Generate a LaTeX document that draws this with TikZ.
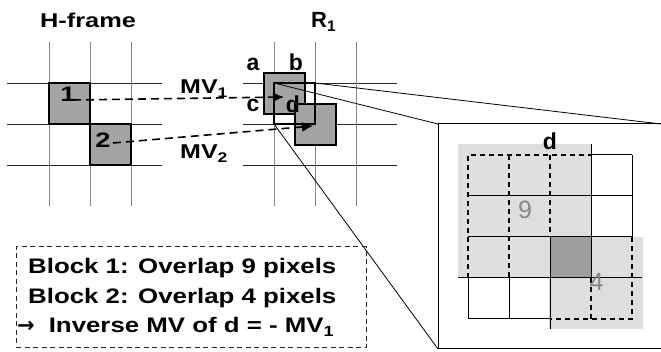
\documentclass[tikz,border=0pt]{standalone}
\usepackage{fontspec}
\setmainfont{Liberation Sans}
\newfontfamily\arrowfont{DejaVu Sans}
\usetikzlibrary{arrows.meta}
\definecolor{blockgray}{RGB}{163,163,163}
\definecolor{lightcell}{RGB}{222,222,222}
\definecolor{darkcell}{RGB}{158,158,158}
\definecolor{gridgray}{RGB}{135,135,135}
\definecolor{numgray}{RGB}{135,135,135}
\newcommand{\hstretch}[2]{\scalebox{#1}[1]{#2}}
\begin{document}
\begin{tikzpicture}[x=1pt,y=-1pt,
  hgrid/.style={draw=black!85,line width=0.9pt},
  vgrid/.style={draw=gridgray,line width=0.9pt},
  blk/.style={draw=black,line width=1.3pt,fill=blockgray,minimum size=41pt,inner sep=0pt,outer sep=0pt,anchor=north west},
  dblk/.style={draw=black,line width=2.8pt,minimum size=41pt,inner sep=0pt,outer sep=0pt,anchor=north west},
  titletext/.style={font=\fontsize{20}{22}\selectfont\bfseries,inner sep=0pt},
  lettertext/.style={font=\fontsize{23}{26}\selectfont\bfseries,inner sep=0pt,anchor=base},
  digittext/.style={font=\fontsize{21}{24}\selectfont\bfseries,inner sep=0pt,anchor=base},
  boxtext/.style={font=\fontsize{21}{24}\selectfont\bfseries,inner sep=0pt,anchor=base west},
  pixnum/.style={font=\fontsize{25}{28}\selectfont,text=numgray,inner sep=0pt},
  mvarrow/.style={line width=1.6pt,dash pattern=on 8pt off 5pt,-{Latex[length=11pt,width=10pt]}},
  zoomline/.style={draw=black,line width=0.8pt},
  pixline/.style={draw=black,line width=1pt},
  pixdash/.style={draw=black,line width=1.2pt,dash pattern=on 5pt off 4pt},
  sumbox/.style={draw=black!85,line width=1pt,dash pattern=on 5pt off 3.5pt,minimum width=350pt,minimum height=101pt,inner sep=0pt,outer sep=0pt,anchor=north west}
]
\useasboundingbox (0,0) rectangle (661,352);

% ---------- H-frame ----------
\node[titletext] (htitle) at (88,20) {\hstretch{1.27}{H-frame}};
\foreach \yy in {83,124,165} \draw[hgrid] (7,\yy) -- (162,\yy);
\foreach \xx in {49,90,131} \draw[vgrid] (\xx,42) -- (\xx,206);
\node[blk] (blk1) at (49,83) {};
\node[blk] (blk2) at (90,124) {};
\node[digittext] (lab1) at (68,102) {\hstretch{1.3}{1}};
\node[digittext] (lab2) at (103,148) {\hstretch{1.3}{2}};

% ---------- R1 ----------
\node[titletext,anchor=base west] (rtitle) at (311,28) {\fontsize{22}{24}\selectfont R\textsubscript{1}};
\foreach \yy in {83,124,165} \draw[hgrid] (243,\yy) -- (397,\yy);
\foreach \xx in {274,315,356} \draw[vgrid] (\xx,42) -- (\xx,206);
\node[blk] (blka) at (264,73) {};
\node[blk] (blkb) at (295,104) {};
\node[dblk] (dblk) at (274,83) {};
\node[lettertext] (laba) at (253,71) {a};
\node[lettertext] (labb) at (296,71) {b};
\node[lettertext] (labc) at (253,112) {c};
\node[lettertext] (labd) at (293,113) {d};

% ---------- motion vectors ----------
\coordinate (mv1s) at (73,100);
\coordinate (mv1e) at (284,97);
\coordinate (mv2s) at (113,143);
\coordinate (mv2e) at (313,126);
\draw[mvarrow] (mv1s) -- (mv1e);
\draw[mvarrow] (mv2s) -- (mv2e);
\node[titletext,anchor=base west] (mv1lab) at (180,94) {\hstretch{1.25}{MV\textsubscript{1}}};
\node[titletext,anchor=base west] (mv2lab) at (180,159) {\hstretch{1.25}{MV\textsubscript{2}}};

% ---------- zoom frame ----------
\coordinate (zbtl) at (438,124);
\coordinate (zbtr) at (661,124);
\coordinate (zbbl) at (438,349);
\coordinate (zbbr) at (661,349);
\draw[zoomline,line width=1pt] (zbtr) -- (zbtl) -- (zbbl) -- (zbbr);
\draw[zoomline] (dblk.north west) -- (zbtl);
\draw[zoomline] (dblk.north east) -- (zbtr);
\draw[zoomline] (dblk.south west) -- (zbbl);

% ---------- zoomed pixels ----------
\fill[lightcell] (458,144) rectangle (591,278);
\fill[lightcell] (549,237) rectangle (643,329);
\fill[darkcell] (550,237) rectangle (591,278);
% solid pixel lines
\draw[pixline] (591,155) -- (632,155);
\draw[pixline] (468,196) -- (632,196);
\draw[pixline] (468,237) -- (632,237);
\draw[pixline] (458,278) -- (642,278);
\draw[pixline] (468,319) -- (550,319);
\draw[pixline] (468,278) -- (468,319);
\draw[pixline] (509,278) -- (509,319);
\draw[pixline] (550,237) -- (550,329);
\draw[pixline] (591,144) -- (591,278);
\draw[pixline] (632,155) -- (632,237);
% dashed overlap of block 1 (9 pixels)
\draw[pixdash] (468,278) -- (468,155) -- (591,155);
\draw[pixdash] (509,155) -- (509,278);
\draw[pixdash] (550,155) -- (550,237);
% dashed overlap of block 2 (4 pixels)
\draw[pixdash] (591,278) -- (591,319);
\draw[pixdash] (632,237) -- (632,319) -- (550,319);
\node[lettertext] (zlabd) at (550,150) {d};
\node[pixnum] (num9) at (525,209.5) {9};
\node[pixnum] (num4) at (596.5,282) {4};

% ---------- summary box ----------
\node[sumbox] (summary) at (16,247) {};
\node[boxtext] (line1) at (28,274) {\hstretch{1.23}{Block 1: Overlap 9 pixels}};
\node[boxtext] (line2) at (28,304) {\hstretch{1.23}{Block 2: Overlap 4 pixels}};
\node[boxtext] (line3) at (17,333) {{\arrowfont\bfseries\fontsize{21}{24}\selectfont →}\hspace{14pt}\hstretch{1.23}{Inverse MV of d = - MV\textsubscript{1}}};
\end{tikzpicture}
\end{document}
